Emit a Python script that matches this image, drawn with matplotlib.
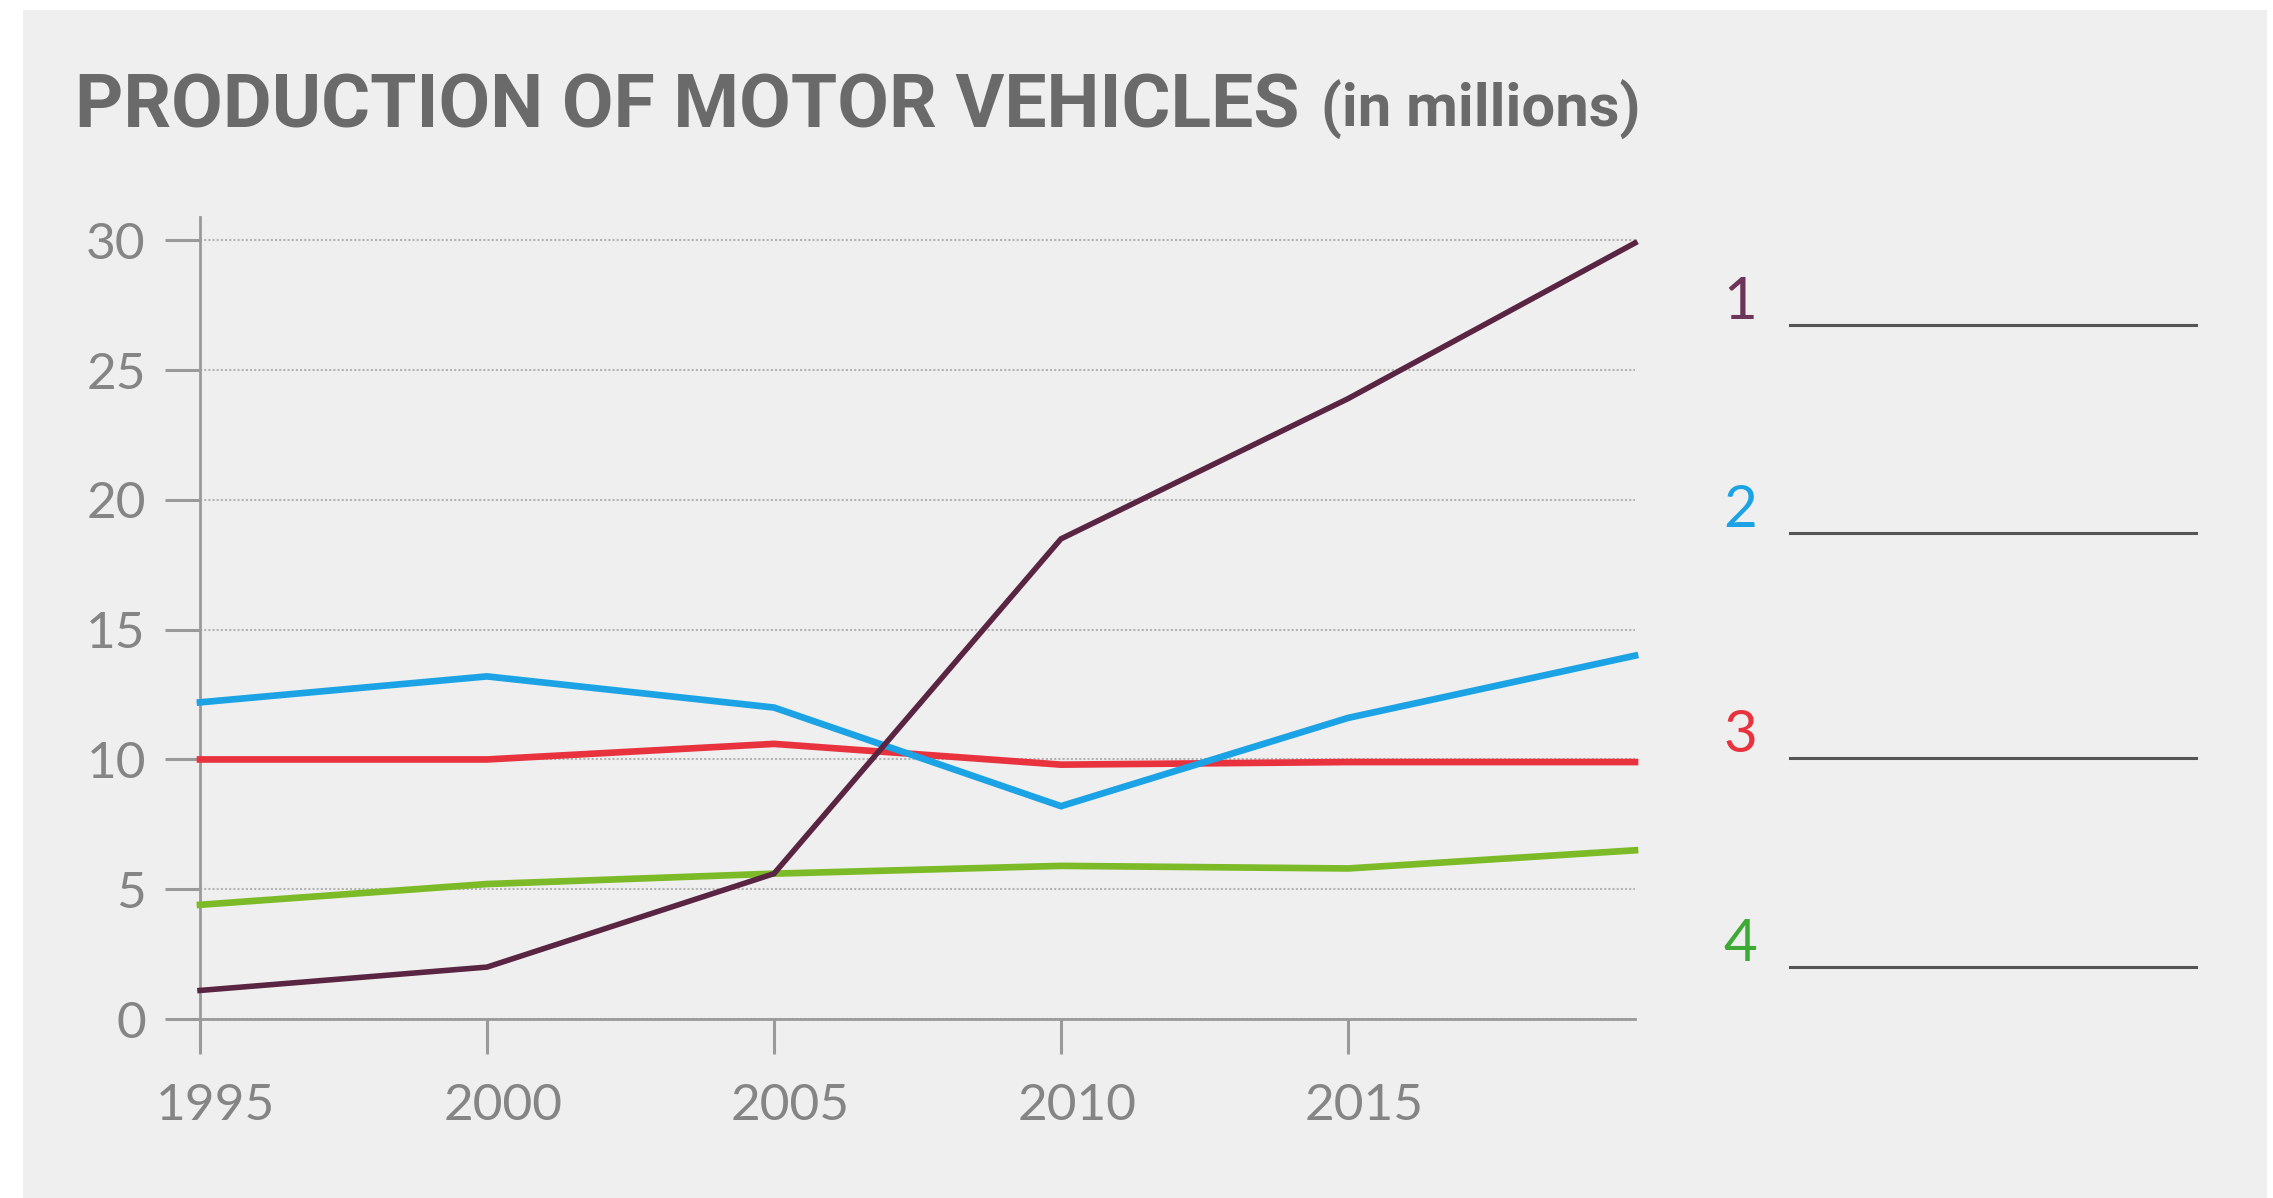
#-------------------------------------------------------------------------------
import matplotlib
matplotlib.use("Agg")
import matplotlib.pyplot as plt
from matplotlib.patches import Rectangle
from matplotlib.transforms import ScaledTranslation
#-------------------------------------------------------------------------------
years  = [1995, 2000, 2005, 2010, 2015, 2020]
s1     = [1.1, 2.0, 5.6, 18.5, 23.9, 29.9]
s2     = [12.2, 13.2, 12.0, 8.2, 11.6, 14.0]
s3     = [10.0, 10.0, 10.6, 9.8, 9.9, 9.9]
s4     = [4.4, 5.2, 5.6, 5.9, 5.8, 6.5]
xticks = [1995, 2000, 2005, 2010, 2015]
yticks = [0, 5, 10, 15, 20, 25, 30]
labels = ['1', '2', '3', '4']
#-------------------------------------------------------------------------------
bg       = '#efefef'
axcol    = '#9a9a9a'
txtcol   = '#858585'
linecols = ['#5a2543', '#1ba3e6', '#e8333f', '#7cbb27']
labcols  = ['#6d3559', '#1ba3e6', '#e8333f', '#3daa36']
W, H = 2273, 1198
#-------------------------------------------------------------------------------
fig = plt.figure(figsize=(W/100, H/100), dpi=100, facecolor='white')
fig.patches.append(Rectangle((23/W, 0), (2267-23)/W, 1-10/H, transform=fig.transFigure,
                             facecolor=bg, edgecolor='none', zorder=-10))

ax = fig.add_axes([200/W, 1-1019/H, (1635-200)/W, (1019-217)/H])
ax.set_facecolor('none')

for s, c, lw in zip([s4, s3, s2, s1], linecols[::-1], [4.8, 4.8, 4.8, 4.0]):
    ax.plot(years, s, color=c, linewidth=lw, clip_on=False, zorder=3,
            solid_joinstyle='miter')

ax.set_xlim(1995, 2020)
ax.set_ylim(0, 30.9)
ax.set_xticks(xticks)
ax.set_yticks(yticks)
ax.set_yticklabels([str(v) for v in yticks])
ax.set_xticklabels([str(v) for v in xticks])

for sp in ['top', 'right']:
    ax.spines[sp].set_visible(False)
for sp in ['left', 'bottom']:
    ax.spines[sp].set_color(axcol)
    ax.spines[sp].set_linewidth(2.0)

ax.tick_params(axis='both', direction='out', length=25, width=2.2, color=axcol,
               labelcolor=txtcol, labelsize=37)
ax.tick_params(axis='y', pad=14)
ax.tick_params(axis='x', pad=21)
for lab in ax.get_xticklabels() + ax.get_yticklabels():
    lab.set_family(['Lato', 'DejaVu Sans'])
    lab.set_fontweight('normal')
for lab in ax.get_xticklabels():
    lab.set_transform(lab.get_transform() + ScaledTranslation(16/100, 0, fig.dpi_scale_trans))

ax.yaxis.grid(True, linestyle=(0, (1, 1)), color='#b3b3b3', linewidth=1.5)
ax.set_axisbelow(True)
#-------------------------------------------------------------------------------
t1 = fig.text(75/W, 1-127/H, 'PRODUCTION OF MOTOR VEHICLES', color='#6a6a6a',
              fontsize=54, fontweight='bold', family=['Roboto', 'DejaVu Sans'],
              ha='left', va='baseline')
r = fig.canvas.get_renderer()
bb = t1.get_window_extent(renderer=r)
fig.text(bb.x1/W + 22/W, 1-127/H, '(in millions)', color='#6a6a6a',
         fontsize=43, fontweight='bold', family=['Roboto', 'DejaVu Sans'],
         ha='left', va='baseline')
#-------------------------------------------------------------------------------
leg_y = [325, 533, 758, 967]
for lab, c, y in zip(labels, labcols, leg_y):
    fig.text(1740/W, 1-(y-6)/H, lab, color=c, fontsize=42, ha='center', va='baseline',
             family=['Lato', 'DejaVu Sans'])
    fig.add_artist(plt.Line2D([1790/W, 2196/W], [1-y/H, 1-y/H], color='#555555',
                              linewidth=2.2, transform=fig.transFigure))
#-------------------------------------------------------------------------------
fig.savefig('out.png', dpi=100, facecolor='white')
#-------------------------------------------------------------------------------
